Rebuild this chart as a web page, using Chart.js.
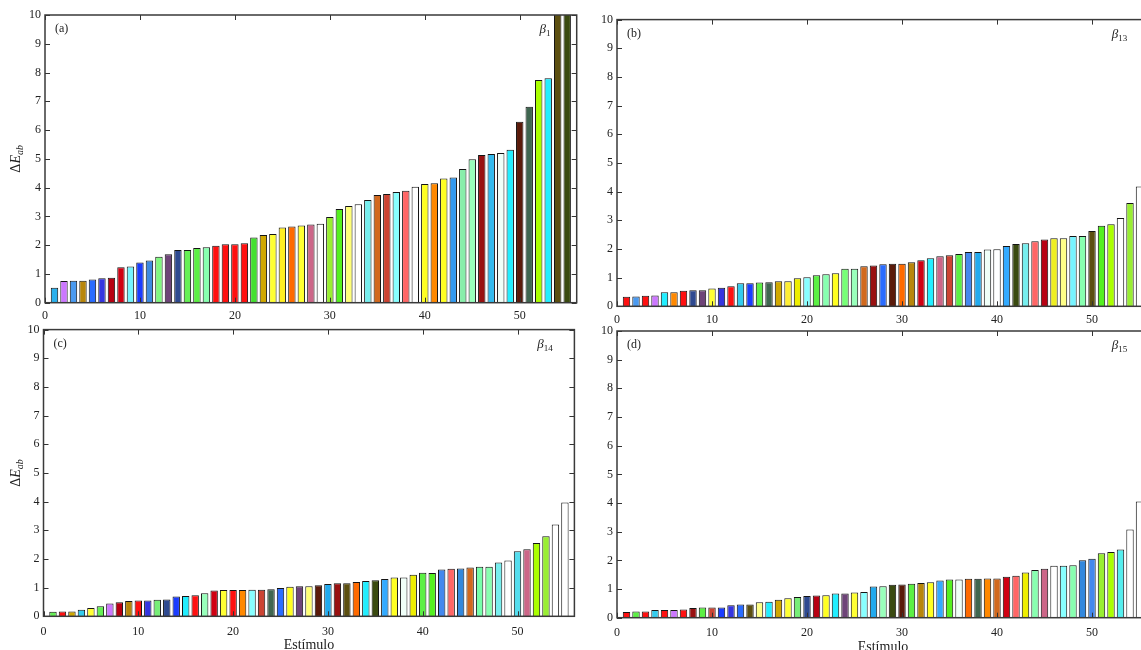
<!DOCTYPE html>
<html><head><meta charset="utf-8">
<script src="https://cdn.jsdelivr.net/npm/chart.js@4/dist/chart.umd.min.js"></script>
<style>
html,body{margin:0;padding:0;background:#fff;overflow:hidden;width:1141px;height:650px;position:relative;}
.p{position:absolute;}
</style></head><body>
<div class="p" style="left:0px;top:0px"><canvas id="ca" width="600" height="330"></canvas></div>
<div class="p" style="left:572.4px;top:0px"><canvas id="cb" width="600" height="334"></canvas></div>
<div class="p" style="left:0px;top:300px"><canvas id="cc" width="600" height="350"></canvas></div>
<div class="p" style="left:572.4px;top:300px"><canvas id="cd" width="600" height="350"></canvas></div>
<script>
// ---------- data ----------
const stimuli = [1,2,3,4,5,6,7,8,9,10,11,12,13,14,15,16,17,18,19,20,21,22,23,24,25,26,27,28,29,30,31,32,33,34,35,36,37,38,39,40,41,42,43,44,45,46,47,48,49,50,51,52,53,54,55];
const xTickValues = [0,10,20,30,40,50];
const xTickLabels = ['0','10','20','30','40','50'];
const yTickValues = [0,1,2,3,4,5,6,7,8,9,10];
const yTickLabels = ['0','1','2','3','4','5','6','7','8','9','10'];
const xTitle = 'Estímulo';

const beta1Values = [0.52,0.75,0.76,0.76,0.81,0.85,0.87,1.23,1.26,1.40,1.47,1.60,1.68,1.83,1.83,1.90,1.93,1.98,2.03,2.03,2.07,2.27,2.35,2.39,2.61,2.65,2.68,2.72,2.74,2.98,3.26,3.36,3.42,3.57,3.74,3.78,3.85,3.89,4.03,4.13,4.15,4.32,4.35,4.65,4.99,5.13,5.17,5.20,5.32,6.29,6.81,7.74,7.80,11.2,12.0];
const beta13Values = [0.33,0.34,0.37,0.38,0.49,0.49,0.54,0.56,0.56,0.62,0.65,0.70,0.80,0.80,0.83,0.84,0.87,0.87,0.98,1.01,1.08,1.12,1.15,1.31,1.31,1.40,1.42,1.47,1.48,1.48,1.54,1.61,1.68,1.75,1.78,1.82,1.89,1.89,1.98,1.99,2.10,2.17,2.20,2.27,2.33,2.37,2.37,2.45,2.45,2.63,2.81,2.86,3.08,3.60,4.18];
const beta14Values = [0.16,0.17,0.17,0.23,0.29,0.35,0.45,0.49,0.53,0.55,0.55,0.58,0.59,0.69,0.71,0.73,0.80,0.90,0.92,0.92,0.92,0.93,0.93,0.94,0.99,1.03,1.05,1.05,1.08,1.13,1.15,1.15,1.20,1.23,1.26,1.30,1.35,1.35,1.45,1.52,1.51,1.63,1.66,1.67,1.70,1.73,1.73,1.88,1.95,2.27,2.34,2.56,2.79,3.20,3.97];
const beta15Values = [0.20,0.22,0.22,0.27,0.27,0.27,0.29,0.34,0.36,0.36,0.36,0.43,0.46,0.46,0.54,0.56,0.63,0.68,0.72,0.76,0.77,0.78,0.84,0.84,0.88,0.90,1.09,1.10,1.15,1.16,1.18,1.21,1.24,1.30,1.33,1.33,1.36,1.36,1.37,1.37,1.43,1.46,1.58,1.66,1.71,1.81,1.81,1.83,2.00,2.06,2.25,2.29,2.38,3.08,4.05];

// ---------- bar colours ----------
const beta1Colors = ['#2bb0ec','#cc77ff','#4a9af0','#b8860b','#2a6cff','#3535e0','#b80012','#d00012','#77f4ff','#1a3cff','#3d8ae0','#80f880','#6e4478','#2f4a90','#66f055','#5cf044','#88ffb0','#ff1010','#ff1010','#ff1010','#ff1010','#44e030','#d0a800','#ffff33','#ffee22','#ff6a00','#ffff33','#cc6688','#ffffff','#99ee33','#55f020','#ffff77','#ffffff','#77eeee','#d2691e','#cc4433','#88ffff','#ff6666','#ffffff','#ffff22','#ff8800','#ffff22','#3399ee','#88eeaa','#99ffbb','#991111','#33bbee','#f0fff8','#22eeff','#5a1a0a','#3f6650','#aaff00','#22eeff','#5c4f10','#3a4a10'];
const beta13Colors = ['#ff1010','#4a9af0','#ff1010','#cc77ff','#22eeff','#ff8800','#ff1010','#2f4a90','#6e4478','#ffff33','#3535e0','#ff1010','#33ccee','#1a3cff','#5cf044','#3f6650','#d0a800','#ffee33','#eeee00','#88ffff','#5cf044','#88ffb0','#ffff22','#77ff77','#99ffbb','#d2691e','#991111','#2a6cff','#5a1a0a','#ff6a00','#b8860b','#d00012','#22eeff','#cc6688','#cc4433','#5cf044','#4488ee','#22aaee','#f0fff8','#ffffff','#33aaff','#3a4a10','#77eeee','#ff6666','#b80012','#eeee22','#ffff88','#77f4ff','#88ffb0','#5c4f10','#55f020','#aaff00','#ffffff','#99ee33','#ffffff'];
const beta14Colors = ['#66f055','#ff1010','#d0a800','#33ccee','#ffff33','#66f055','#cc77ff','#b80012','#b8860b','#ff1010','#3535e0','#77ee77','#2f4a90','#1a3cff','#22eeff','#ff1010','#99ffbb','#d00012','#ffff33','#ff1010','#ff8800','#88ffff','#cc4433','#3f6650','#2a6cff','#ffff22','#6e4478','#ffff77','#5a1a0a','#22aaee','#991111','#5c4f10','#ff6a00','#22eeff','#3a4a10','#33aaff','#ffff22','#f0fff8','#eeee00','#5cf044','#55f020','#4488ee','#ff6666','#3388dd','#d2691e','#77ffaa','#88ffb0','#77eeee','#ffffff','#55ddee','#cc6688','#aaff00','#99ee33','#ffffff','#ffffff'];
const beta15Colors = ['#ff1010','#5cf044','#ff1010','#33ccee','#ff1010','#cc77ff','#ff1010','#991111','#5cf044','#cc4433','#1a3cff','#3535e0','#2a6cff','#5c4f10','#ffff88','#22eeff','#d0a800','#ffff33','#77ee77','#2f4a90','#b80012','#ffff22','#22eeff','#6e4478','#ffff33','#88ffff','#22aaee','#99ffbb','#3a4a10','#5a1a0a','#5cf044','#b8860b','#ffff22','#33aaff','#55f020','#f0fff8','#ff6a00','#3f6650','#ff8800','#d2691e','#d00012','#ff6666','#eeee00','#88ffb0','#cc6688','#ffffff','#88ffff','#88ffb0','#3388dd','#4488ee','#99ee33','#aaff00','#55eeee','#ffffff','#ffffff'];

// ---------- drawing helpers ----------
const SERIF = '"Liberation Serif", "DejaVu Serif", serif';
const TXT = '#222';

function runsWidth(ctx, runs){
  let w = 0;
  runs.forEach(r => { ctx.font = r.font; w += ctx.measureText(r.t).width; });
  return w;
}
function drawRuns(ctx, runs, x, y){
  let cx = x;
  runs.forEach(r => {
    ctx.font = r.font;
    ctx.fillText(r.t, cx, y + (r.dy || 0));
    cx += ctx.measureText(r.t).width;
  });
}

function decorPlugin(d){
  return {
    id: 'decor',
    afterDatasetsDraw(chart){
      const ctx = chart.ctx;
      const a = chart.chartArea;
      const xs = chart.scales.x, ys = chart.scales.y;
      ctx.save();
      // inward ticks on all four sides
      ctx.strokeStyle = '#333';
      ctx.lineWidth = 1;
      ctx.beginPath();
      xTickValues.forEach(v => {
        const px = Math.round(xs.getPixelForValue(v)) + 0.5;
        ctx.moveTo(px, a.bottom); ctx.lineTo(px, a.bottom - 5);
        ctx.moveTo(px, a.top); ctx.lineTo(px, a.top + 5);
      });
      yTickValues.forEach(v => {
        const py = Math.round(ys.getPixelForValue(v)) + 0.5;
        ctx.moveTo(a.left, py); ctx.lineTo(a.left + 5, py);
        ctx.moveTo(a.right, py); ctx.lineTo(a.right - 5, py);
      });
      ctx.stroke();
      // frame
      ctx.strokeStyle = '#3a3a3a';
      ctx.lineWidth = 1.5;
      ctx.strokeRect(a.left, a.top, a.right - a.left, a.bottom - a.top);
      // panel letter
      ctx.fillStyle = TXT;
      ctx.textBaseline = 'alphabetic';
      ctx.textAlign = 'left';
      ctx.font = '12px ' + SERIF;
      ctx.fillText(d.letter, a.left + 10, a.top + 17);
      // beta label
      const bx = a.left + 0.93 * (a.right - a.left);
      drawRuns(ctx, [
        {t: 'β', font: 'italic 13px ' + SERIF},
        {t: d.sub, font: '9px ' + SERIF, dy: 3}
      ], bx, a.top + 18);
      // y title
      if (d.yTitle){
        const runs = [
          {t: 'Δ', font: '14px ' + SERIF},
          {t: 'E', font: 'italic 14px ' + SERIF},
          {t: 'ab', font: 'italic 10px ' + SERIF, dy: 3}
        ];
        const w = runsWidth(ctx, runs);
        ctx.translate(20, (a.top + a.bottom) / 2);
        ctx.rotate(-Math.PI / 2);
        drawRuns(ctx, runs, -w / 2, 0);
        ctx.setTransform(1,0,0,1,0,0);
      }
      if (d.xTitle){
        ctx.font = '14px ' + SERIF;
        ctx.textAlign = 'center';
        ctx.fillText(xTitle, (a.left + a.right) / 2, a.bottom + 33);
      }
      ctx.restore();
    }
  };
}

function makePanel(id, values, colors, L, d){
  const data = values.map((v, i) => ({x: stimuli[i], y: v}));
  const font = {family: SERIF, size: 12};
  return new Chart(document.getElementById(id), {
    type: 'bar',
    data: {datasets: [{
      data: data,
      backgroundColor: colors,
      borderColor: '#141414',
      borderWidth: 1,
      barPercentage: 0.78,
      categoryPercentage: 1
    }]},
    options: {
      responsive: false,
      animation: false,
      devicePixelRatio: 1,
      layout: {padding: {left: 0, top: L.top, right: L.right, bottom: 0}},
      plugins: {legend: {display: false}, tooltip: {enabled: false}},
      scales: {
        x: {
          type: 'linear', min: 0, max: 56, offset: false,
          grid: {display: false, drawTicks: false},
          border: {display: false},
          ticks: {padding: L.xPad, font: font, color: TXT, autoSkip: false, maxRotation: 0,
                  callback: v => xTickLabels[xTickValues.indexOf(v)]},
          afterBuildTicks: s => { s.ticks = xTickValues.map(v => ({value: v})); },
          afterFit: s => { s.height = L.xH; }
        },
        y: {
          min: 0, max: 10,
          grid: {display: false, drawTicks: false},
          border: {display: false},
          ticks: {padding: 4, font: font, color: TXT,
                  callback: v => yTickLabels[yTickValues.indexOf(v)]},
          afterBuildTicks: s => { s.ticks = yTickValues.map(v => ({value: v})); },
          afterFit: s => { s.width = L.yW; }
        }
      }
    },
    plugins: [decorPlugin(d)]
  });
}

makePanel('ca', beta1Values, beta1Colors, {top: 15, right: 23.3, xH: 27.3, yW: 45, xPad: 6}, {letter: '(a)', sub: '1', yTitle: true});
makePanel('cb', beta13Values, beta13Colors, {top: 19.6, right: 23, xH: 27.7, yW: 45, xPad: 6}, {letter: '(b)', sub: '13'});
makePanel('cc', beta14Values, beta14Colors, {top: 29.6, right: 25.6, xH: 33.7, yW: 43.5, xPad: 8}, {letter: '(c)', sub: '14', yTitle: true, xTitle: true});
makePanel('cd', beta15Values, beta15Colors, {top: 31, right: 23, xH: 32.3, yW: 45, xPad: 8}, {letter: '(d)', sub: '15', xTitle: true});
</script>
</body></html>
